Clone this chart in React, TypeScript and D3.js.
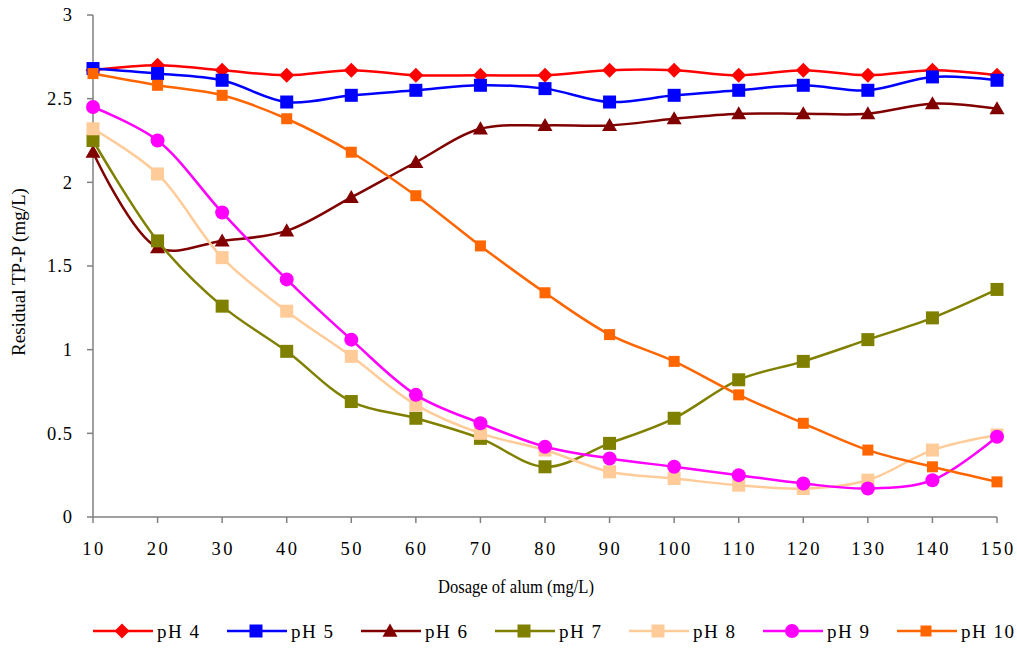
import React from "react";
import * as d3 from "d3";

const dosages = [10, 20, 30, 40, 50, 60, 70, 80, 90, 100, 110, 120, 130, 140, 150];
const pH4 = [2.67, 2.70, 2.67, 2.64, 2.67, 2.64, 2.64, 2.64, 2.67, 2.67, 2.64, 2.67, 2.64, 2.67, 2.64];
const pH5 = [2.68, 2.65, 2.61, 2.48, 2.52, 2.55, 2.58, 2.56, 2.48, 2.52, 2.55, 2.58, 2.55, 2.63, 2.61];
const pH6 = [2.18, 1.61, 1.65, 1.71, 1.91, 2.12, 2.32, 2.34, 2.34, 2.38, 2.41, 2.41, 2.41, 2.47, 2.44];
const pH7 = [2.25, 1.65, 1.26, 0.99, 0.69, 0.59, 0.47, 0.30, 0.44, 0.59, 0.82, 0.93, 1.06, 1.19, 1.36];
const pH8 = [2.32, 2.05, 1.55, 1.23, 0.96, 0.67, 0.50, 0.40, 0.27, 0.23, 0.19, 0.17, 0.22, 0.40, 0.49];
const pH9 = [2.45, 2.25, 1.82, 1.42, 1.06, 0.73, 0.56, 0.42, 0.35, 0.30, 0.25, 0.20, 0.17, 0.22, 0.48];
const pH10 = [2.65, 2.58, 2.52, 2.38, 2.18, 1.92, 1.62, 1.34, 1.09, 0.93, 0.73, 0.56, 0.40, 0.30, 0.21];
const yTicks = [0, 0.5, 1, 1.5, 2, 2.5, 3];
const yTickLabels = ["0", "0.5", "1", "1.5", "2", "2.5", "3"];

const seriesNames = ["pH 4", "pH 5", "pH 6", "pH 7", "pH 8", "pH 9", "pH 10"];
const seriesValues = [pH4, pH5, pH6, pH7, pH8, pH9, pH10];
const seriesColors = ["#ff0000", "#0000ff", "#800000", "#808000", "#ffcc99", "#ff00ff", "#ff6600"];
const seriesMarkers = ["diamond", "square", "triangle", "square", "square", "circle", "smallsquare"];

const W = 1017;
const H = 648;
const FONT = "'Liberation Serif', 'Times New Roman', serif";

function Marker({ type, x, y, color }: { type: string; x: number; y: number; color: string }) {
  if (type === "diamond") {
    const s = 7.5;
    return <path d={`M${x},${y - s}L${x + s},${y}L${x},${y + s}L${x - s},${y}Z`} fill={color} />;
  }
  if (type === "square") {
    const s = 6.5;
    return <rect x={x - s} y={y - s} width={2 * s} height={2 * s} fill={color} />;
  }
  if (type === "smallsquare") {
    const s = 5.5;
    return <rect x={x - s} y={y - s} width={2 * s} height={2 * s} fill={color} />;
  }
  if (type === "triangle") {
    const s = 7.5;
    return <path d={`M${x},${y - s}L${x + s},${y + s * 0.75}L${x - s},${y + s * 0.75}Z`} fill={color} />;
  }
  return <circle cx={x} cy={y} r={7} fill={color} />;
}

export default function App() {
  const x0 = 93, x1 = 997, yTop = 15, yBot = 517;
  const xScale = d3.scaleLinear().domain([10, 150]).range([x0, x1]);
  const yScale = d3.scaleLinear().domain([0, 3]).range([yBot, yTop]);
  const line = d3
    .line<number>()
    .x((_, i) => xScale(dosages[i]))
    .y((v) => yScale(v))
    .curve(d3.curveCatmullRom.alpha(0.5));

  const legendX = 93;
  const legendStep = 134;
  const legendY = 631;

  return (
    <svg width={W} height={H} style={{ position: "absolute", left: 0, top: 0, background: "#fff" }}>
      <rect width={W} height={H} fill="#fff" />
      {/* axes */}
      <line x1={x0} y1={yTop} x2={x0} y2={yBot} stroke="#808080" strokeWidth={1.5} />
      <line x1={x0} y1={yBot} x2={x1} y2={yBot} stroke="#808080" strokeWidth={1.5} />
      {yTicks.map((t, i) => (
        <g key={"yt" + i}>
          <line x1={x0 - 6} x2={x0} y1={yScale(t)} y2={yScale(t)} stroke="#808080" strokeWidth={1.5} />
          <text x={x0 - 20} y={yScale(t)} dy="0.35em" textAnchor="end" fontFamily={FONT} fontSize={18.5} letterSpacing={1} fill="#000">
            {yTickLabels[i]}
          </text>
        </g>
      ))}
      {dosages.map((d) => (
        <g key={"xt" + d}>
          <line x1={xScale(d)} x2={xScale(d)} y1={yBot} y2={yBot + 6} stroke="#808080" strokeWidth={1.5} />
          <text x={xScale(d) + 1} y={yBot + 38} textAnchor="middle" fontFamily={FONT} fontSize={18.5} letterSpacing={2.5} fill="#000">
            {d}
          </text>
        </g>
      ))}
      <text x={438} y={593} fontFamily={FONT} fontSize={19} textLength={156} lengthAdjust="spacingAndGlyphs" fill="#000">
        Dosage of alum (mg/L)
      </text>
      <text
        transform={`translate(25, 272) rotate(-90)`}
        textAnchor="middle"
        fontFamily={FONT}
        fontSize={19}
        fill="#000"
      >
        Residual TP-P (mg/L)
      </text>
      {/* series */}
      {seriesValues.map((vals, si) => (
        <g key={"s" + si}>
          <path d={line(vals) || ""} fill="none" stroke={seriesColors[si]} strokeWidth={2.5} />
          {vals.map((v, i) => (
            <Marker key={i} type={seriesMarkers[si]} x={xScale(dosages[i])} y={yScale(v)} color={seriesColors[si]} />
          ))}
        </g>
      ))}
      {/* legend */}
      {seriesNames.map((n, si) => {
        const lx = legendX + si * legendStep;
        return (
          <g key={"lg" + si}>
            <line x1={lx} x2={lx + 60} y1={legendY} y2={legendY} stroke={seriesColors[si]} strokeWidth={2.5} />
            <Marker type={seriesMarkers[si]} x={lx + 29} y={legendY} color={seriesColors[si]} />
            <text x={lx + 64} y={legendY} dy="0.35em" fontFamily={FONT} fontSize={19} letterSpacing={1.5} fill="#000">
              {n}
            </text>
          </g>
        );
      })}
    </svg>
  );
}
